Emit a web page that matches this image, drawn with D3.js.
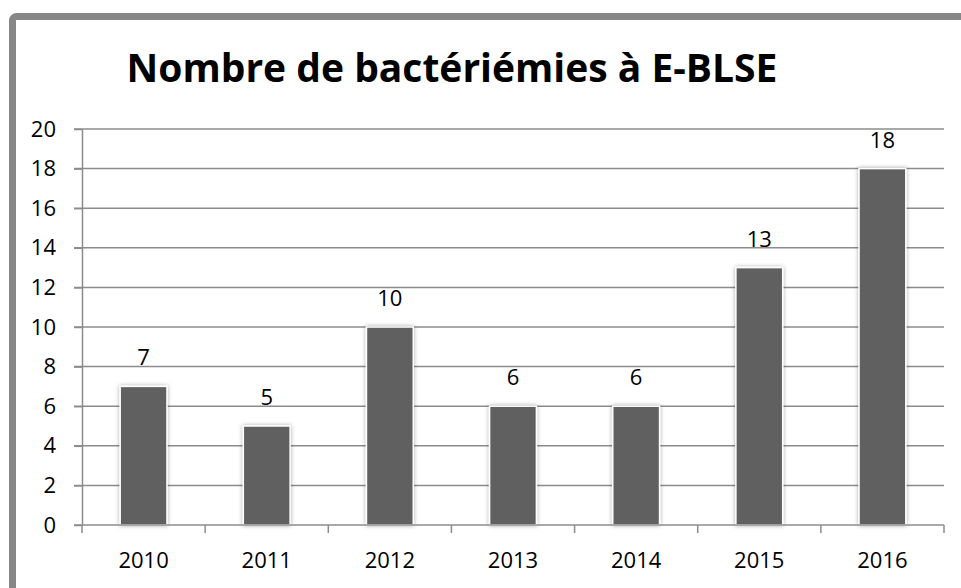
<!DOCTYPE html>
<html>
<head>
<meta charset="utf-8">
<script src="https://cdn.jsdelivr.net/npm/d3@7"></script>
<style>
  body { margin: 0; background: #fff; }
  svg { display: block; }
</style>
</head>
<body>
<div id="chart"></div>
<script>
var years = ["2010", "2011", "2012", "2013", "2014", "2015", "2016"];
var counts = [7, 5, 10, 6, 6, 13, 18];
var yTicks = [0, 2, 4, 6, 8, 10, 12, 14, 16, 18, 20];
var title = "Nombre de bactériémies à E-BLSE";

var width = 961,
    height = 588,
    margin = {top: 129, right: 17, bottom: 63, left: 82};

var svg = d3.select("#chart")
    .append("svg")
    .attr("width", width)
    .attr("height", height);

var defs = svg.append("defs");
var shadow = defs.append("filter").attr("id", "shadow")
    .attr("x", "-30%").attr("y", "-10%").attr("width", "160%").attr("height", "120%");
shadow.append("feDropShadow")
    .attr("dx", 0).attr("dy", 0).attr("stdDeviation", 2)
    .attr("flood-color", "#000").attr("flood-opacity", 0.35);

// outer frame
svg.append("rect")
    .attr("x", 12.5).attr("y", 16.5)
    .attr("width", 980).attr("height", 620)
    .attr("rx", 4)
    .style("fill", "#fff")
    .style("stroke", "#878787")
    .style("stroke-width", 7);

svg.append("text")
    .attr("x", 452)
    .attr("y", 82)
    .attr("text-anchor", "middle")
    .style("font-family", "'Open Sans', sans-serif")
    .style("font-weight", "bold")
    .style("font-size", "39px")
    .style("fill", "#000")
    .text(title);

var innerW = width - margin.left - margin.right,
    innerH = height - margin.top - margin.bottom;

var g = svg.append("g")
    .attr("transform", `translate(${margin.left},${margin.top})`);

var x = d3.scaleBand().domain(years).range([0, innerW]).paddingInner(0.62).paddingOuter(0.31);
var xTickScale = d3.scaleBand().domain(years).range([0, innerW]);
var y = d3.scaleLinear().domain([0, 20]).range([innerH, 0]);

// gridlines
g.selectAll(".grid")
    .data(yTicks.filter(d => d > 0))
    .enter().append("line")
    .attr("class", "grid")
    .attr("x1", -8).attr("x2", innerW)
    .attr("y1", d => y(d)).attr("y2", d => y(d))
    .style("stroke", "#8c8c8c")
    .style("stroke-width", 1.5);

// y axis
var yAxis = d3.axisLeft(y).tickValues(yTicks).tickSize(8).tickSizeOuter(0).tickPadding(18);
var yG = g.append("g").attr("class", "y axis").call(yAxis);
yG.select(".domain").style("stroke", "#8c8c8c").style("stroke-width", 1.5);
yG.selectAll(".tick line").style("stroke", "#8c8c8c").style("stroke-width", 1.5);
yG.selectAll(".tick text")
    .style("font-family", "'Open Sans', sans-serif")
    .style("font-size", "22px")
    .style("fill", "#000");

// bars
g.selectAll(".bar")
    .data(counts)
    .enter().append("rect")
    .attr("class", "bar")
    .attr("x", (d, i) => x(years[i]))
    .attr("y", d => y(d))
    .attr("width", x.bandwidth())
    .attr("height", d => innerH - y(d))
    .style("fill", "#606060")
    .style("stroke", "#fff")
    .style("stroke-width", 1.5)
    .attr("filter", "url(#shadow)");

// x axis
var boundaries = years.map(d => xTickScale(d)).concat([innerW]);
var xG = g.append("g").attr("class", "x axis").attr("transform", `translate(0,${innerH})`);
xG.append("line")
    .attr("x1", -8).attr("x2", innerW)
    .style("stroke", "#8c8c8c").style("stroke-width", 1.5);
xG.selectAll(".xtick")
    .data(boundaries)
    .enter().append("line")
    .attr("class", "xtick")
    .attr("x1", d => d).attr("x2", d => d)
    .attr("y1", 0).attr("y2", 8)
    .style("stroke", "#8c8c8c").style("stroke-width", 1.5);
xG.selectAll(".xlabel")
    .data(years)
    .enter().append("text")
    .attr("class", "xlabel")
    .attr("x", d => xTickScale(d) + xTickScale.bandwidth() / 2)
    .attr("y", 43)
    .attr("text-anchor", "middle")
    .style("font-family", "'Open Sans', sans-serif")
    .style("font-size", "22px")
    .style("fill", "#000")
    .text(d => d);

// value labels
g.selectAll(".value")
    .data(counts)
    .enter().append("text")
    .attr("class", "value")
    .attr("x", (d, i) => x(years[i]) + x.bandwidth() / 2)
    .attr("y", d => y(d) - 21)
    .attr("text-anchor", "middle")
    .style("font-family", "'Open Sans', sans-serif")
    .style("font-size", "22px")
    .style("fill", "#000")
    .text(d => d);
</script>
</body>
</html>
